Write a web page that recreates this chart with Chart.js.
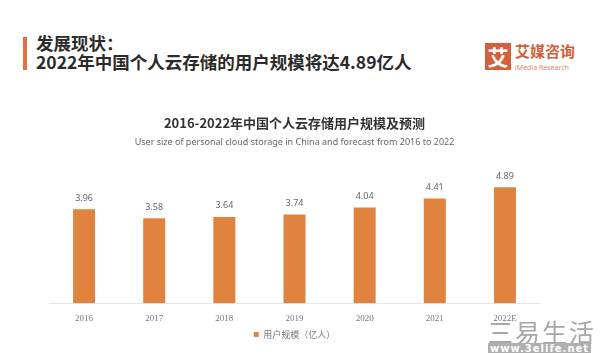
<!DOCTYPE html>
<html>

<head>
    <title>个人云存储用户规模</title>
    <script src="https://cdn.jsdelivr.net/npm/chart.js@4.4.0/dist/chart.umd.min.js"></script>
    <style>
        body { margin: 0; background: #fff; font-family: "Noto Sans CJK SC", "Noto Sans", sans-serif; }
        #page { position: relative; width: 600px; height: 353px; overflow: hidden; }
        .bar { position: absolute; left: 23px; top: 37px; width: 4px; height: 33px; background: #E0703F; }
        .head { position: absolute; left: 36px; font-size: 17.5px; font-weight: bold; color: #2b2b2b; white-space: nowrap; line-height: 20px; }
        .logo { position: absolute; left: 485px; top: 43px; width: 26px; height: 27px; background: #D45F3C; color: #fff;
                font-size: 21px; font-weight: bold; text-align: center; line-height: 27px; }
        .logoText { position: absolute; left: 515px; top: 42px; font-size: 15px; font-weight: bold; color: #D45F3C; white-space: nowrap; line-height: 18px; }
        .logoSub { position: absolute; left: 515px; top: 63px; font-size: 7px; color: #D98A74; white-space: nowrap; font-family: "Noto Sans", sans-serif; }
        .wm1 { position: absolute; left: 488px; top: 318px; font-size: 25px; color: #a8a8a8; letter-spacing: 2px; line-height: 26px; font-family: "Noto Sans CJK SC"; }
        .wm2 { position: absolute; left: 488px; top: 343px; font-size: 10px; font-weight: bold; color: #fff; background: #b0b0b0; line-height: 11px; padding: 0 2px; letter-spacing: 1px; font-family: "DejaVu Sans"; }
        #wrap { position: absolute; left: 0; top: 100px; width: 578px; height: 253px; }
    </style>
</head>

<body>
    <div id="page">
        <div class="bar"></div>
        <div class="head" style="top: 33px;">发展现状：</div>
        <div class="head" style="top: 52px;">2022年中国个人云存储的用户规模将达4.89亿人</div>
        <div class="logo">艾</div>
        <div class="logoText">艾媒咨询</div>
        <div class="logoSub">iMedia Research</div>
        <div id="wrap"><canvas id="myChart"></canvas></div>
        <div class="wm1">三易生活</div>
        <div class="wm2">www.3elife.net</div>
    </div>
</body>
<script>
    // data
    const years = ['2016', '2017', '2018', '2019', '2020', '2021', '2022E'];
    const users = [3.96, 3.58, 3.64, 3.74, 4.04, 4.41, 4.89];
    const seriesName = '用户规模（亿人）';

    const barColor = '#E0833F';

    // draw the value over each bar
    const valueLabels = {
        id: 'valueLabels',
        afterDatasetsDraw(chart) {
            const ctx = chart.ctx;
            const meta = chart.getDatasetMeta(0);
            ctx.save();
            ctx.font = '9px "Noto Sans", sans-serif';
            ctx.fillStyle = '#666';
            ctx.textAlign = 'center';
            ctx.textBaseline = 'middle';
            meta.data.forEach((bar, i) => {
                ctx.fillText(users[i].toFixed(2), bar.x, bar.y - 11);
            });
            ctx.restore();
        }
    };

    const canvas = document.getElementById('myChart');

    const myChart = new Chart(canvas, {
        type: 'bar',
        data: {
            labels: years,
            datasets: [{
                label: seriesName,
                data: users,
                backgroundColor: barColor,
                categoryPercentage: 1,
                barPercentage: 0.314
            }]
        },
        options: {
            responsive: true,
            maintainAspectRatio: false,
            animation: false,
            layout: { padding: { left: 49, right: 38, bottom: 4 } },
            plugins: {
                title: {
                    display: true,
                    text: '2016-2022年中国个人云存储用户规模及预测',
                    color: '#333',
                    font: { size: 13, weight: 'bold', family: '"Noto Sans CJK SC"' },
                    padding: { top: 15, bottom: 6 }
                },
                subtitle: {
                    display: true,
                    text: 'User size of personal cloud storage in China and forecast from 2016 to 2022',
                    color: '#666',
                    font: { size: 9, family: '"Noto Sans", sans-serif' },
                    padding: { top: 0, bottom: 23 }
                },
                legend: {
                    position: 'bottom',
                    labels: {
                        boxWidth: 5,
                        boxHeight: 5,
                        color: '#777',
                        font: { size: 9, family: '"Noto Sans CJK SC"' },
                        padding: 4
                    }
                },
                tooltip: { enabled: false }
            },
            scales: {
                x: {
                    grid: { display: false },
                    border: { display: true, color: '#e6e6e6', width: 1 },
                    ticks: {
                        color: '#777',
                        padding: 2,
                        font: { size: 9, family: '"Liberation Serif", serif' }
                    }
                },
                y: {
                    display: false,
                    min: 0,
                    max: 5.6
                }
            }
        },
        plugins: [valueLabels]
    });
</script>

</html>
